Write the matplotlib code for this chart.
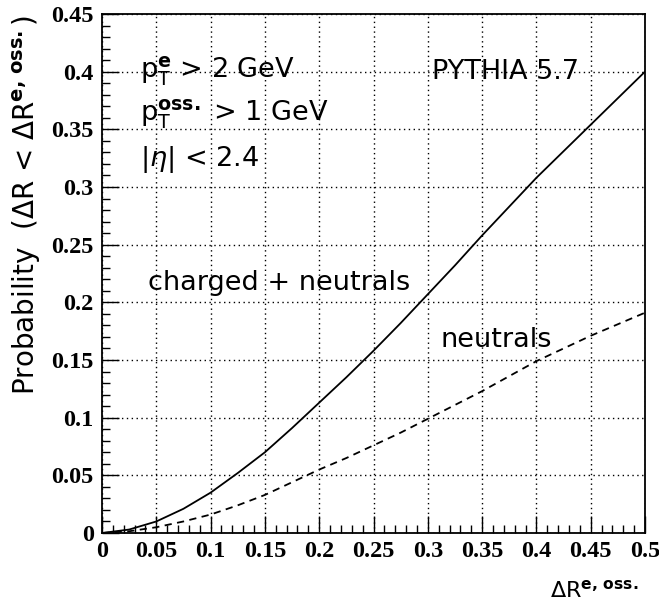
import matplotlib
matplotlib.use("Agg")
import matplotlib.pyplot as plt
from matplotlib.ticker import MultipleLocator

# Data
dR = [0.0, 0.025, 0.05, 0.075, 0.1, 0.125, 0.15, 0.175, 0.2, 0.225, 0.25,
      0.275, 0.3, 0.325, 0.35, 0.375, 0.4, 0.425, 0.45, 0.475, 0.5]
prob_all = [0.0, 0.003, 0.010, 0.021, 0.035, 0.052, 0.070, 0.091, 0.113, 0.135,
            0.158, 0.182, 0.207, 0.232, 0.258, 0.283, 0.308, 0.331, 0.354, 0.377, 0.400]
prob_neutral = [0.0, 0.0015, 0.005, 0.010, 0.016, 0.024, 0.033, 0.044, 0.055, 0.065,
                0.076, 0.087, 0.099, 0.111, 0.123, 0.136, 0.149, 0.160, 0.171, 0.181, 0.191]
xticks = [0, 0.05, 0.1, 0.15, 0.2, 0.25, 0.3, 0.35, 0.4, 0.45, 0.5]
xticklabels = ["0", "0.05", "0.1", "0.15", "0.2", "0.25", "0.3", "0.35", "0.4", "0.45", "0.5"]
yticks = [0, 0.05, 0.1, 0.15, 0.2, 0.25, 0.3, 0.35, 0.4, 0.45]
yticklabels = ["0", "0.05", "0.1", "0.15", "0.2", "0.25", "0.3", "0.35", "0.4", "0.45"]

plt.rcParams['mathtext.fontset'] = 'dejavusans'

fig = plt.figure(figsize=(6.59, 6.06), dpi=100)
ax = fig.add_axes([102/659, 1-533/606, (645-102)/659, (533-14)/606])

ax.plot(dR, prob_all, color='black', lw=1.3)
ax.plot(dR, prob_neutral, color='black', lw=1.3, ls=(0, (4, 3)))

ax.set_xlim(0, 0.5)
ax.set_ylim(0, 0.45)
ax.set_xticks(xticks)
ax.set_xticklabels(xticklabels)
ax.set_yticks(yticks)
ax.set_yticklabels(yticklabels)
ax.xaxis.set_minor_locator(MultipleLocator(0.01))
ax.yaxis.set_minor_locator(MultipleLocator(0.01))
ax.tick_params(which='major', direction='in', length=12, width=1.0,
               top=False, right=False, pad=6)
ax.tick_params(which='minor', direction='in', length=6, width=1.0,
               top=False, right=False)
for lab in ax.get_xticklabels() + ax.get_yticklabels():
    lab.set_fontfamily('Liberation Serif')
    lab.set_fontweight('bold')
    lab.set_fontsize(17.5)

ax.grid(True, which='major', ls=(0, (1, 2.5)), color='black', lw=1.0)
for sp in ax.spines.values():
    sp.set_linewidth(1.3)

tfont = dict(fontsize=19.5, family='DejaVu Sans', color='black')
ax.text(0.035, 0.40, r'p$_{\mathrm{T}}^{\mathbf{e}}$ > 2 GeV', va='center', ha='left', **tfont)
ax.text(0.035, 0.363, r'p$_{\mathrm{T}}^{\mathbf{oss.}}$ > 1 GeV', va='center', ha='left', **tfont)
ax.text(0.035, 0.324, r'|$\eta$| < 2.4', va='center', ha='left', **tfont)
ax.text(0.304, 0.40, 'PYTHIA 5.7', va='center', ha='left', **tfont)
ax.text(0.042, 0.217, 'charged + neutrals', va='center', ha='left', **tfont)
ax.text(0.312, 0.167, 'neutrals', va='center', ha='left', **tfont)

fig.text(27/659, 1-205/606, r'Probability  ($\Delta$R < $\Delta$R$^{\mathbf{e,\,oss.}}$)',
         rotation=90, va='center', ha='center', fontsize=20, family='DejaVu Sans')
fig.text(639/659, 1-590/606, r'$\Delta$R$^{\mathbf{e,\,oss.}}$', va='center', ha='right',
         fontsize=16, family='DejaVu Sans')

fig.savefig('out.png', dpi=100)
